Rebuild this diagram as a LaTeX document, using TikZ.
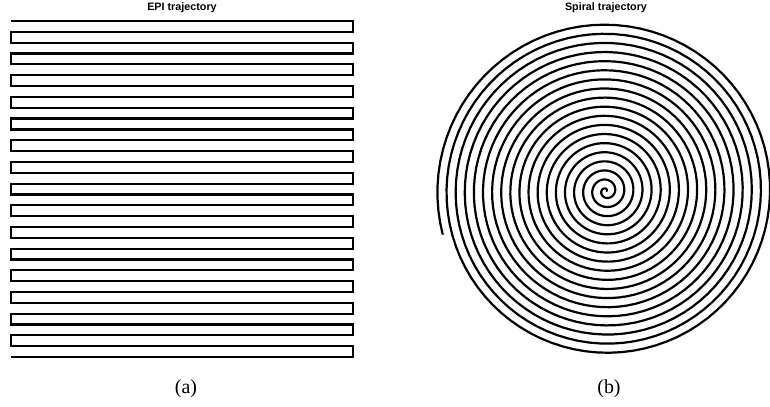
\documentclass[tikz,border=0pt]{standalone}
\usepackage{fontspec}
\setmainfont{Liberation Serif}
\setsansfont{Liberation Sans}
\usetikzlibrary{calc}
\tikzset{
 traj/.style={line width=2.2bp,line join=miter},
 ttl/.style={font=\sffamily\bfseries\fontsize{10.8}{12}\selectfont,inner sep=0pt},
 sub/.style={font=\fontsize{20}{22}\selectfont,inner sep=0pt}
}

\begin{document}
\begin{tikzpicture}[x=1bp,y=1bp]
 \useasboundingbox (0,0) rectangle (770,406);
 % EPI
 \draw[traj] (11,385) -- ++(342,0)
  \foreach \i in {1,...,15}{ -- ++(0,-10.84) -- ++(-342,0) -- ++(0,-10.84) -- ++(342,0)}
  -- ++(0,-10.84) -- ++(-342,0);
 \node[ttl] (epi) at (182,398.5) {EPI trajectory};
 \node[sub] (a) at (186,17.5) {(a)};
 % spiral
 \begin{scope}[shift={(606,215)}]
  \draw[traj,line cap=butt] plot[domain=0:6675,samples=1600] (\x:{\x*0.025318});
 \end{scope}
 \node[ttl] (spi) at (606,398) {Spiral trajectory};
 \node[sub] (b) at (609,17.5) {(b)};
\end{tikzpicture}
\end{document}
